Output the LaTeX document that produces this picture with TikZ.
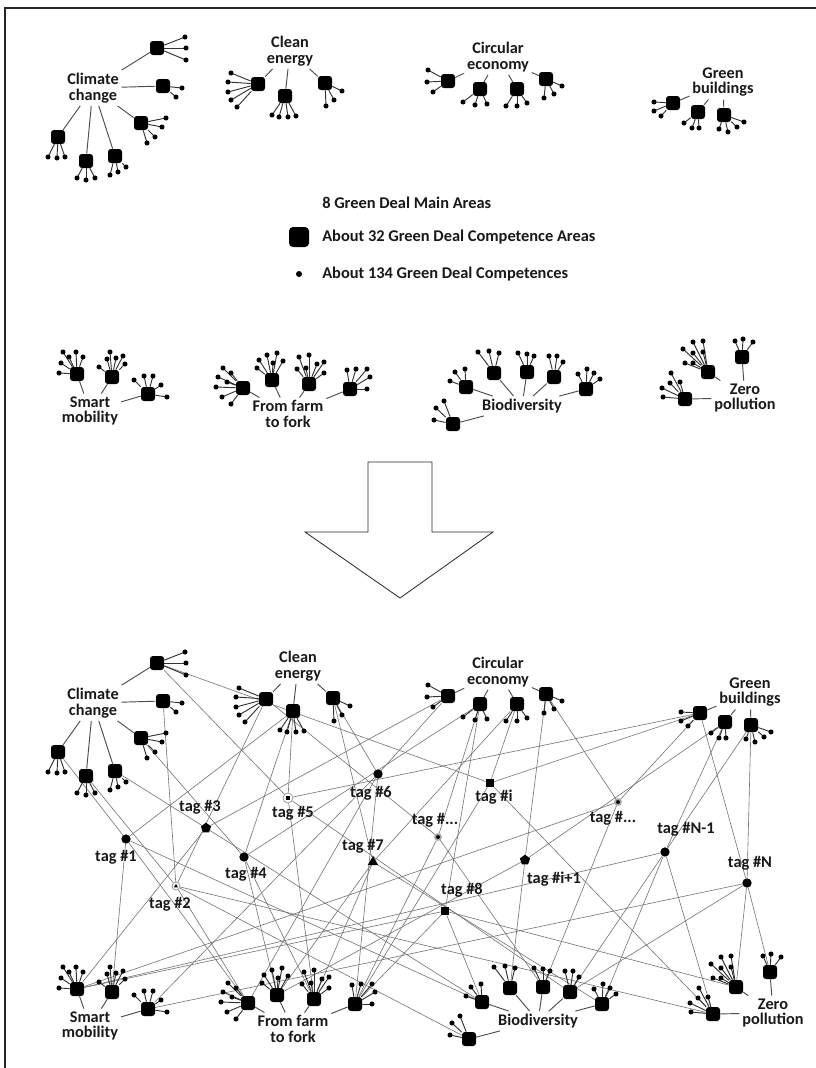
\documentclass[tikz,border=0pt]{standalone}
\usepackage{fontspec}
\setmainfont{Carlito}
\usetikzlibrary{shapes.geometric}
\pgfdeclarelayer{bg}
\pgfsetlayers{bg,main}
\tikzset{
 csq/.style={rectangle, rounded corners=2.2pt, fill=black, minimum size=10.5pt, inner sep=0},
 leafdot/.style={circle, fill=black, minimum size=3.8pt, inner sep=0},
 leaf/.style={draw=black!80, line width=0.7pt},
 lbl/.style={draw=black!70, line width=0.7pt},
 area/.style={font=\bfseries\fontsize{12.2}{11.8}\selectfont, align=center, inner sep=2pt, text=black!90},
 legtxt/.style={font=\bfseries\fontsize{12.3}{13}\selectfont, anchor=west, inner sep=0, text=black!90},
 taglbl/.style={font=\bfseries\fontsize{12.3}{13}\selectfont, inner sep=1pt, text=black!90},
 edge/.style={draw=black!55, line width=0.45pt},
 tdot/.style={circle, fill=black, minimum size=7pt, inner sep=0},
 tpent/.style={regular polygon, regular polygon sides=5, fill=black, minimum size=8pt, inner sep=0},
 ttri/.style={regular polygon, regular polygon sides=3, fill=black, minimum size=9pt, inner sep=0},
 tsqr/.style={rectangle, fill=black, minimum size=6pt, inner sep=0},
 tring/.style={circle, fill=black, minimum size=4.5pt, inner sep=0, draw=black!35, line width=1.3pt},
 thalotri/.style={circle, draw=black!40, line width=0.6pt, minimum size=6pt, inner sep=0,
   path picture={\fill ([yshift=1.6pt]path picture bounding box.center) -- ++(-1.6pt,-2.7pt) -- ++(3.2pt,0pt) -- cycle;}},
 thalosq/.style={circle, draw=black!40, line width=0.6pt, minimum size=7.5pt, inner sep=0,
   path picture={\fill ([shift={(-1.7pt,-1.7pt)}]path picture bounding box.center) rectangle ++(3.4pt,3.4pt);}},
}
\newcommand\CSq[4]{%
  \node[csq] (#1) at (#2,#3) {};
  \foreach \lx/\ly [count=\k] in {#4} {\draw[leaf] (#1) -- (\lx,\ly) node[leafdot] (#1-\k) {};}
}
\newcommand\ClusterCC{%
  \node[area] (cl) at (93,88) {Climate\\change};
  \CSq{cc1}{157}{48}{185/37,186/48,186/60}
  \CSq{cc2}{163}{86}{182/88,176/97}
  \CSq{cc3}{141}{123}{166/118,162/127,155/137,147/143}
  \CSq{cc4}{58}{137}{48/157,57/158,65/157}
  \CSq{cc5}{86}{161}{77/178,86/180,95/178}
  \CSq{cc6}{115}{156}{110/175,118/172,126/167}
  \foreach \s in {cc1,cc2,cc3,cc4,cc5,cc6} \draw[lbl] (cl) -- (\s);
}
\newcommand\ClusterCE{%
  \node[area] (el) at (290,51) {Clean\\energy};
  \CSq{ce1}{258}{84}{231/73,228/82,228/92,231/100,237/107}
  \CSq{ce2}{285}{96}{272/115,279/117,288/117,296/116}
  \CSq{ce3}{325}{83}{342/91,334/100,326/106}
  \foreach \s in {ce1,ce2,ce3} \draw[lbl] (el) -- (\s);
}
\newcommand\ClusterCI{%
  \node[area] (il) at (498,57) {Circular\\economy};
  \CSq{ci1}{448}{81}{428/70,427/82,433/92}
  \CSq{ci2}{480}{89}{463/102,475/105,487/104}
  \CSq{ci3}{517}{89}{506/106,517/106,527/103}
  \CSq{ci4}{546}{79}{562/86,554/94,544/98}
  \foreach \s in {ci1,ci2,ci3,ci4} \draw[lbl] (il) -- (\s);
}
\newcommand\ClusterGB{%
  \node[area] (gl) at (723,82) {Green\\buildings};
  \CSq{gb1}{673}{103}{654/102,654/111,661/116}
  \CSq{gb2}{698}{112}{684/123,692/128,699/128}
  \CSq{gb3}{724}{115}{719/129,728/132,737/127,744/122}
  \foreach \s in {gb1,gb2,gb3} \draw[lbl] (gl) -- (\s);
}
\newcommand\ClusterSM{%
  \node[area] (sl) at (90,411) {Smart\\mobility};
  \CSq{sm1}{77}{374}{63/352,76/352,69/357,83/357,61/363,59/373}
  \CSq{sm2}{112}{377}{110/352,107/359,116/358,123/356,125/364,99/367}
  \CSq{sm3}{148}{394}{134/380,144/376,153/376,161/385,167/397}
  \foreach \s in {sm1,sm2,sm3} \draw[lbl] (sl) -- (\s);
}
\newcommand\ClusterFF{%
  \node[area] (fl) at (288,414) {From farm\\to fork};
  \CSq{ff1}{243}{388}{223/368,231/373,218/377,227/382,216/387,222/397,231/404}
  \CSq{ff2}{272}{380}{267/355,277/353,259/360,273/363,283/361,257/368}
  \CSq{ff3}{309}{384}{299/357,309/355,297/369,306/368,317/364,324/362,324/373}
  \CSq{ff4}{350}{389}{347/370,356/369,367/369,370/377,367/389}
  \foreach \s in {ff1,ff2,ff3,ff4} \draw[lbl] (fl) -- (\s);
}
\newcommand\ClusterBD{%
  \node[area] (bl) at (522,406) {Biodiversity};
  \CSq{bd1}{466}{387}{450/381,455/372,465/369}
  \CSq{bd2}{494}{373}{478/352,489/351,499/353}
  \CSq{bd3}{527}{372}{518/353,527/354,534/356}
  \CSq{bd4}{554}{377}{549/356,557/356,563/362}
  \CSq{bd5}{586}{389}{578/374,587/369,594/373,600/379}
  \CSq{bd6}{453}{424}{436/408,444/401,434/420}
  \foreach \s in {bd1,bd2,bd3,bd4,bd5,bd6} \draw[lbl] (bl) -- (\s);
}
\newcommand\ClusterZP{%
  \node[area] (zl) at (745,398) {Zero\\pollution};
  \CSq{zp1}{742}{357}{735/341,743/339,753/342}
  \CSq{zp2}{708}{372}{683/349,693/342,703/341,693/353,703/352,685/363,693/363}
  \CSq{zp3}{685}{399}{671/373,680/382,670/383,662/388,663/397}
  \foreach \s in {zp1,zp2,zp3} \draw[lbl] (zl) -- (\s);
}
\begin{document}
\begin{tikzpicture}[x=0.75pt,y=-0.75pt]
\useasboundingbox (0,0) rectangle (816,1068);
\begin{pgfonlayer}{bg}
\fill[white] (0,0) rectangle (816,1068);
\end{pgfonlayer}
\draw[line width=0.8pt, black!85] (816,8) -- (5,8) -- (5,1068);

% ---------- top: main areas ----------
\begin{scope}[name prefix=a-]
  \ClusterCC \ClusterCE \ClusterCI \ClusterGB
  \ClusterSM \ClusterFF \ClusterBD \ClusterZP
\end{scope}

% legend
\node[legtxt] (leg1) at (322,203) {8 Green Deal Main Areas};
\node[csq, minimum size=15pt, rounded corners=3pt] (legsq) at (299,237) {};
\node[legtxt] (leg2) at (322,237) {About 32 Green Deal Competence Areas};
\node[leafdot, minimum size=4.5pt] (legdot) at (299,274) {};
\node[legtxt] (leg3) at (322,274) {About 134 Green Deal Competences};

% big arrow
\draw[line width=0.6pt, black!85, line join=miter]
  (368,462) -- (432,462) -- (432,532) -- (493,532) -- (400,598) -- (305,532) -- (368,532) -- cycle;

% ---------- bottom: network ----------
\begin{scope}[shift={(0,615)}, name prefix=b-] \ClusterCC \end{scope}
\begin{scope}[shift={(8,615)}, name prefix=b-] \ClusterCE \end{scope}
\begin{scope}[shift={(0,615)}, name prefix=b-] \ClusterCI \end{scope}
\begin{scope}[shift={(27,610)}, name prefix=b-] \ClusterGB \end{scope}
\begin{scope}[shift={(0,615)}, name prefix=b-] \ClusterSM \end{scope}
\begin{scope}[shift={(5,615)}, name prefix=b-] \ClusterFF \end{scope}
\begin{scope}[shift={(16,615)}, name prefix=b-] \ClusterBD \end{scope}
\begin{scope}[shift={(28,615)}, name prefix=b-] \ClusterZP \end{scope}

% tags
\node[tdot] (t1) at (126,839) {};
\node[thalotri] (t2) at (176,886) {};
\node[tpent] (t3) at (206,828) {};
\node[tdot] (t4) at (244,857) {};
\node[thalosq] (t5) at (288,798) {};
\node[tdot] (t6) at (378,774) {};
\node[ttri] (t7) at (373,862) {};
\node[tring] (tdl) at (438,837) {};
\node[tsqr] (ti) at (490,783) {};
\node[tsqr] (t8) at (445,911) {};
\node[tpent] (tip) at (525,860) {};
\node[tring] (tdr) at (618,802) {};
\node[tdot] (tN1) at (665,852) {};
\node[tdot] (tN) at (747,883) {};

\node[taglbl] (t1l) at (116,857) {tag \#1};
\node[taglbl] (t2l) at (170,904) {tag \#2};
\node[taglbl] (t3l) at (200,807) {tag \#3};
\node[taglbl] (t4l) at (246,874) {tag \#4};
\node[taglbl] (t5l) at (293,813) {tag \#5};
\node[taglbl] (t6l) at (371,793) {tag \#6};
\node[taglbl] (t7l) at (363,846) {tag \#7};
\node[taglbl] (tdll) at (435,820) {tag \#...};
\node[taglbl] (til) at (494,797) {tag \#i};
\node[taglbl] (t8l) at (462,890) {tag \#8};
\node[taglbl] (tipl) at (554,879) {tag \#i+1};
\node[taglbl] (tdrl) at (613,818) {tag \#...};
\node[taglbl] (tN1l) at (686,829) {tag \#N-1};
\node[taglbl] (tNl) at (750,863) {tag \#N};

\begin{pgfonlayer}{bg}
\foreach \t/\s in {
  t1/b-cc4, t1/b-ce2, t1/b-sm2, t1/b-ff1, t1/b-bd1,
  t2/b-cc2, t2/b-cc5, t2/b-ce1, t2/b-ff1, t2/b-bd6, t2/b-zp3,
  t3/b-cc6, t3/b-ci1, t3/b-bd1, t3/b-sm1,
  t4/b-cc3, t4/b-ce2, t4/b-ff2, t4/b-ff3, t4/b-ci2,
  t5/b-cc1, t5/b-ce2, t5/b-ff3, t5/b-bd4, t5/b-gb1,
  t6/b-ci1, t6/b-ce3, t6/b-ff1, t6/b-ff4, t6/b-sm3,
  t7/b-ce3, t7/b-ff3, t7/b-ff2, t7/b-bd5, t7/b-ci3,
  tdl/b-ci2, tdl/b-ce1, tdl/b-bd3, tdl/b-ff4,
  ti/b-cc1, ti/b-ci3, ti/b-ff4, ti/b-zp3, ti/b-gb1,
  t8/b-ci2, t8/b-sm1, t8/b-ff4, t8/b-zp2, t8/b-bd1,
  tip/b-ci4, tip/b-bd2, tip/b-gb2, tip/b-ff2,
  tdr/b-gb1, tdr/b-ci4, tdr/b-bd3, tdr/b-sm1,
  tN1/b-gb2, tN1/b-gb3, tN1/b-zp3, tN1/b-bd4, tN1/b-bd5, tN1/b-sm1,
  tN/b-gb3, tN/b-gb1, tN/b-zp1, tN/b-zp2, tN/b-bd4, tN/b-sm3}
  \draw[edge] (\t) -- (\s);
\end{pgfonlayer}
\end{tikzpicture}
\end{document}
